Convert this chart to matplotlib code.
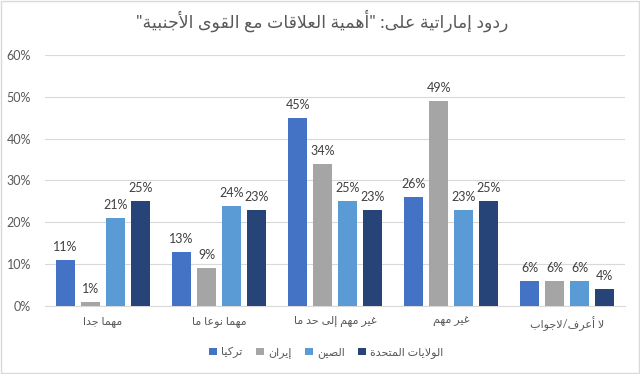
import matplotlib
matplotlib.use("Agg")
import matplotlib.pyplot as plt
import numpy as np
from matplotlib.patches import Patch, Rectangle

# ---------------- data ----------------
title = 'ردود إماراتية على: "أهمية العلاقات مع القوى الأجنبية"'
categories = ["مهما جدا", "مهما نوعا ما", "غير مهم إلى حد ما", "غير مهم", "لا أعرف/لاجواب"]
series_names = ["تركيا", "إيران", "الصين", "الولايات المتحدة"]
turkey = [11, 13, 45, 26, 6]
iran = [1, 9, 34, 49, 6]
china = [21, 24, 25, 23, 6]
usa = [25, 23, 23, 25, 4]
yticks = [0, 10, 20, 30, 40, 50, 60]
colors = ["#4472C4", "#A5A5A5", "#5B9BD5", "#264478"]

# ---------------- minimal Arabic shaping ----------------
_DUAL = {'ئ': 0xFE89, 'ب': 0xFE8F, 'ت': 0xFE95, 'ث': 0xFE99, 'ج': 0xFE9D, 'ح': 0xFEA1,
         'خ': 0xFEA5, 'س': 0xFEB1, 'ش': 0xFEB5, 'ص': 0xFEB9, 'ض': 0xFEBD, 'ط': 0xFEC1,
         'ظ': 0xFEC5, 'ع': 0xFEC9, 'غ': 0xFECD, 'ف': 0xFED1, 'ق': 0xFED5, 'ك': 0xFED9,
         'ل': 0xFEDD, 'م': 0xFEE1, 'ن': 0xFEE5, 'ه': 0xFEE9, 'ي': 0xFEF1}
_RIGHT = {'آ': 0xFE81, 'أ': 0xFE83, 'ؤ': 0xFE85, 'إ': 0xFE87, 'ا': 0xFE8D, 'ة': 0xFE93,
          'د': 0xFEA9, 'ذ': 0xFEAB, 'ر': 0xFEAD, 'ز': 0xFEAF, 'و': 0xFEED, 'ى': 0xFEEF}
_LAMALEF = {'آ': 0xFEF5, 'أ': 0xFEF7, 'إ': 0xFEF9, 'ا': 0xFEFB}


def ar(text):
    toks = []
    i = 0
    while i < len(text):
        c = text[i]
        if c == 'ل' and i + 1 < len(text) and text[i + 1] in _LAMALEF:
            toks.append(('LA', _LAMALEF[text[i + 1]]))
            i += 2
        else:
            toks.append(c)
            i += 1

    def is_ar(t):
        return isinstance(t, tuple) or t in _DUAL or t in _RIGHT or t == 'ء'

    def is_dual(t):
        return (not isinstance(t, tuple)) and t in _DUAL

    out = []
    for k, t in enumerate(toks):
        prev = toks[k - 1] if k > 0 else None
        nxt = toks[k + 1] if k + 1 < len(toks) else None
        jp = prev is not None and is_dual(prev)
        if isinstance(t, tuple):
            out.append(chr(t[1] + (1 if jp else 0)))
        elif t in _DUAL:
            jn = nxt is not None and is_ar(nxt)
            b = _DUAL[t]
            out.append(chr(b + (3 if (jp and jn) else 1 if jp else 2 if jn else 0)))
        elif t in _RIGHT:
            out.append(chr(_RIGHT[t] + (1 if jp else 0)))
        elif t == 'ء':
            out.append(chr(0xFE80))
        else:
            out.append(t)
    return ''.join(reversed(out))


plt.rcParams['font.family'] = ['Lato', 'DejaVu Sans']

fig = plt.figure(figsize=(6.4, 3.74), dpi=100)
ax = fig.add_axes([0.070, 0.182, 0.907, 0.671])

x = np.arange(len(categories))
data = [turkey, iran, china, usa]
pitch = 0.215
width = 0.165
for i, (vals, col) in enumerate(zip(data, colors)):
    pos = x + (i - 1.5) * pitch
    bars = ax.bar(pos, vals, width=width, color=col, zorder=3)
    for b, v in zip(bars, vals):
        ax.annotate(f"{v}%", (b.get_x() + b.get_width() / 2, v), xytext=(0, 5),
                    textcoords="offset points", ha="center", va="bottom",
                    fontsize=9, color="#404040")

ax.set_ylim(0, 60)
ax.set_xlim(-0.5, len(categories) - 0.5)
ax.set_yticks(yticks)
ax.set_yticklabels([f"{t}%" for t in yticks], color="#595959", fontsize=9)
ax.set_xticks(x)
ax.set_xticklabels([ar(c) for c in categories], color="#595959", fontsize=8)
ax.tick_params(axis="y", length=0, pad=10)
ax.tick_params(axis="x", length=0, pad=7)
ax.grid(axis="y", color="#D9D9D9", linewidth=0.8, zorder=0)
for s in ["top", "right", "left"]:
    ax.spines[s].set_visible(False)
ax.spines["bottom"].set_color("#D9D9D9")

fig.text(0.503, 0.945, ar(title), ha="center", va="center", fontsize=12.5, color="#595959")

handles = [Patch(facecolor=c) for c in colors]
fig.legend(handles, [ar(n) for n in series_names], loc="center", bbox_to_anchor=(0.51, 0.058),
           ncol=4, frameon=False, fontsize=8, handlelength=0.7, handleheight=0.7,
           handletextpad=0.4, columnspacing=1.2, labelcolor="#595959")

fig.patches.append(Rectangle((0.002, 0.003), 0.996, 0.994, transform=fig.transFigure,
                             fill=False, edgecolor="#D9D9D9", linewidth=1))

fig.savefig("out.png", dpi=100)
